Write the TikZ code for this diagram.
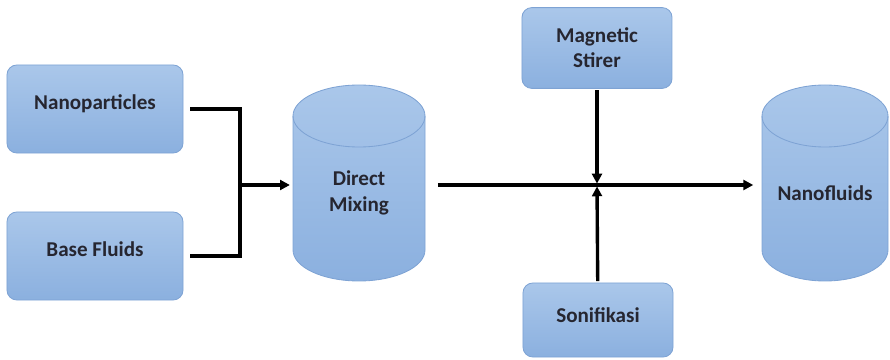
\documentclass[tikz,border=0pt]{standalone}
\usepackage{fontspec}
\setmainfont{Carlito}
\usepackage{tikz}
\usetikzlibrary{positioning, arrows.meta}
\definecolor{boxtop}{RGB}{170,199,234}
\definecolor{boxbot}{RGB}{139,176,223}
\definecolor{boxrim}{RGB}{126,163,212}
\definecolor{ink}{RGB}{38,38,48}

\begin{document}
\begin{tikzpicture}[
  x=0.025cm, y=-0.025cm,
  font=\fontsize{15}{18}\selectfont\bfseries, text=ink,
  box/.style={draw=boxrim, line width=0.6pt, rounded corners=7pt, align=center,
              top color=boxtop, bottom color=boxbot},
  inbox/.style={box, minimum width=4.4cm, minimum height=2.2cm, text depth=10.5pt},
  tankbody/.style={draw=boxrim, line width=0.6pt, top color=boxtop, bottom color=boxbot},
  tankrim/.style={draw=boxrim, line width=0.6pt},
  tanktext/.style={align=center, inner xsep=0pt},
  link/.style={line width=2.4pt},
  flow/.style={link, -{Triangle[length=7pt, width=7pt]}},
]
\useasboundingbox (0,0) rectangle (890,360);
% inputs
\node[inbox] (np) at (95,109) {Nanoparticles};
\node[inbox] (bf) at (95,256) {Base Fluids};
% tanks: body first, then the front edge of the lid
\shade[tankbody] (293,116) -- (293,250) arc[start angle=180, end angle=0, x radius=66, y radius=31]
  -- (425,116) arc[start angle=0, end angle=-180, x radius=66, y radius=31] -- cycle;
\draw[tankrim] (293,116) arc[start angle=180, end angle=0, x radius=66, y radius=31];
\shade[tankbody] (762,116) -- (762,250) arc[start angle=180, end angle=0, x radius=63, y radius=31]
  -- (888,116) arc[start angle=0, end angle=-180, x radius=63, y radius=31] -- cycle;
\draw[tankrim] (762,116) arc[start angle=180, end angle=0, x radius=63, y radius=31];
\node[tanktext, minimum width=3.3cm] (mix) at (359,193) {Direct\\Mixing};
\node[tanktext, minimum width=3.15cm] (nf) at (825,193) {Nanofluids};
% treatments
\node[box, minimum width=3.75cm, minimum height=2.02cm] (ms) at (597,48) {Magnetic\\Stirer};
\node[box, minimum width=3.75cm, minimum height=1.85cm, text depth=7.5pt] (son) at (598,320) {Sonifikasi};
\coordinate (join) at (240,185);
\coordinate (hub) at (597,185);
% joining the inputs
\draw[link] ([xshift=5pt]np.east) -| (join) |- ([xshift=5pt]bf.east);
\draw[flow, shorten >=2pt] (join) -- (mix.west |- join);
% main line and the two treatments
\draw[flow, shorten <=9pt, shorten >=6pt] (mix.east |- hub) -- (nf.west |- hub);
\draw[flow, shorten <=1pt, shorten >=1pt] (ms) -- (hub);
\draw[flow, shorten <=1pt, shorten >=1pt] (son) -- (hub);
\end{tikzpicture}
\end{document}
